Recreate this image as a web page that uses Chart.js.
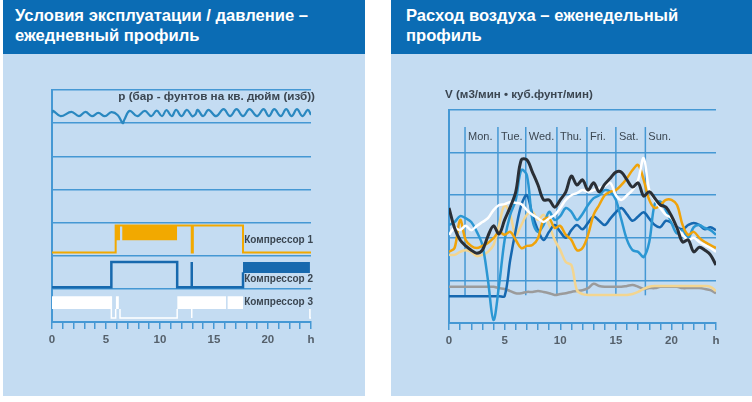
<!DOCTYPE html>
<html><head><meta charset="utf-8">
<script src="https://cdn.jsdelivr.net/npm/chart.js@4.4.1/dist/chart.umd.min.js"></script>
<style>
html,body{margin:0;padding:0;background:#fff;}
body{width:752px;height:402px;position:relative;overflow:hidden;font-family:"Liberation Sans",Arial,sans-serif;}
.panel{position:absolute;top:0;height:396px;background:#c4dcf2;}
#lp{left:3px;width:362px;}
#rp{left:391px;width:361px;}
.hdr{position:absolute;left:0;top:0;right:0;height:54px;background:#0b6cb4;color:#fff;font-weight:bold;font-size:16.6px;line-height:20px;box-sizing:border-box;padding-top:6px;}
#lp .hdr{padding-left:12px;}
#rp .hdr{padding-left:15px;}
.cv{position:absolute;top:56px;height:346px;}
#lc{left:0;width:370px;}
#rc{left:376px;width:376px;}
</style></head><body>
<div class="panel" id="lp"><div class="hdr">Условия эксплуатации / давление –<br>ежедневный профиль</div></div>
<div class="panel" id="rp"><div class="hdr">Расход воздуха – еженедельный<br>профиль</div></div>
<div class="cv" id="lc"><canvas id="c1" width="370" height="346"></canvas></div>
<div class="cv" id="rc"><canvas id="c2" width="376" height="346"></canvas></div>
<script>
// ---------- LEFT CHART DATA (hours 0..24) ----------
const pressureHours = [0,0.1,0.8,1.8,2.5,3.1,3.7,4.3,4.9,5.5,6.1,6.55,6.7,7.2,7.9,8.6,9.2,9.7,10.2,10.6,11.1,11.5,12.0,12.5,13.0,13.3,13.5,14.0,14.5,15.2,15.9,16.5,17.1,17.7,18.3,19.0,19.6,20.1,20.6,21.2,21.7,22.2,22.7,23.2,23.7,24];
const pressureValues = [6.30,6.37,6.21,6.34,6.21,6.34,6.21,6.31,6.21,6.33,6.24,6.00,6.10,6.37,6.21,6.37,6.21,6.38,6.21,6.39,6.21,6.40,6.21,6.40,6.21,6.27,6.40,6.21,6.40,6.21,6.42,6.21,6.42,6.21,6.42,6.21,6.42,6.21,6.42,6.21,6.42,6.21,6.42,6.21,6.40,6.25];

const comp1Hours  = [0,5.9,5.9,12.95,12.95,13.05,13.05,17.7,17.7,24];
const comp1Values = [2.1,2.1,2.91,2.91,2.1,2.1,2.91,2.91,2.1,2.1];
const comp1Blocks = [[5.9,6.3],[6.5,11.6]];
const comp1BlockRange = [2.47,2.91];

const comp2Hours  = [0,5.5,5.5,11.6,11.6,12.95,12.95,12.95,17.7,17.7];
const comp2Values = [1.05,1.05,1.81,1.81,1.05,1.05,1.81,1.05,1.05,1.5];
const comp2Blocks = [[17.7,23.9]];
const comp2BlockRange = [1.48,1.81];

const comp3Hours  = [5.5,5.5,5.9,5.9,6.1,6.3,6.3,11.6,11.6,12.3,12.95,12.95,20,23.9,23.9,24];
const comp3Values = [0.78,0.12,0.12,0.39,null,0.39,0.12,0.12,0.39,null,0.39,0.12,null,0.39,0.12,0.12];
const comp3Blocks = [[0,5.5],[5.9,6.2],[11.6,16.15],[16.25,17.7]];
const comp3BlockRange = [0.39,0.78];

const leftLabels = ['p (бар - фунтов на кв. дюйм (изб))','Компрессор 1','Компрессор 2','Компрессор 3'];

// ---------- RIGHT CHART DATA (hours 0..24, step 0.5) ----------
const hours = [0,0.5,1,1.5,2,2.5,3,3.5,4,4.5,5,5.5,6,6.5,7,7.5,8,8.5,9,9.5,10,10.5,11,11.5,12,12.5,13,13.5,14,14.5,15,15.5,16,16.5,17,17.5,18,18.5,19,19.5,20,20.5,21,21.5,22,22.5,23,23.5,24];
const flowBlack  = [2.70,2.23,1.95,1.81,1.71,1.64,1.71,2.04,2.28,2.09,2.42,2.72,3.08,3.83,3.83,3.54,3.24,2.89,2.89,2.72,2.89,3.08,3.45,3.24,3.36,3.12,3.29,3.08,3.26,3.40,3.54,3.54,3.36,3.19,3.29,2.98,3.08,2.93,2.77,2.72,2.51,2.23,1.90,1.95,1.67,1.78,1.71,1.60,1.36];
const flowWhite  = [2.07,2.23,2.18,2.28,2.18,2.28,2.37,2.46,2.65,2.77,2.79,2.84,2.82,2.79,2.65,2.54,2.46,2.37,2.46,2.54,2.70,2.89,3.00,3.05,3.12,3.08,3.12,3.17,3.22,3.29,3.00,2.89,3.00,3.12,3.36,3.87,3.12,2.89,2.70,2.54,2.46,2.23,2.07,1.95,2.00,1.90,1.83,1.76,1.67];
const flowOrange = [1.67,1.76,2.42,1.95,1.81,1.76,1.81,1.88,1.99,2.14,2.07,2.14,1.95,1.76,1.81,1.83,1.99,2.42,2.46,2.23,2.28,2.07,1.95,1.71,1.76,2.07,2.54,2.77,3.00,3.08,3.12,3.24,3.40,3.59,3.71,3.36,2.89,2.70,2.77,2.89,2.89,2.77,2.30,2.07,2.14,2.00,1.90,1.83,1.76];
const flowBlue   = [2.30,2.37,2.51,2.46,2.37,2.14,1.83,1.01,0.07,0.89,1.95,2.54,2.89,3.59,3.47,2.42,2.14,2.30,2.61,2.42,2.51,2.70,2.61,2.42,2.56,2.77,2.93,3.00,3.12,3.08,2.89,2.42,1.95,1.71,1.67,1.55,1.90,2.80,2.85,2.65,2.35,2.10,2.18,2.00,2.25,2.30,2.23,2.18,2.07];
const flowDark   = [0.63,0.63,0.63,0.63,0.63,0.63,0.63,0.63,0.63,0.63,0.63,1.48,2.18,2.77,3.00,2.54,2.18,1.95,2.14,2.30,2.14,2.00,2.18,2.30,2.20,2.35,2.50,2.40,2.30,2.45,2.60,2.70,2.55,2.40,2.50,2.60,2.45,2.30,2.25,2.40,2.35,2.25,2.20,2.30,2.35,2.30,2.20,2.25,2.18];
const flowCream  = [1.60,1.60,1.67,1.71,1.67,1.57,1.60,1.67,1.83,2.30,2.77,2.54,2.07,2.30,2.54,2.61,2.42,2.54,2.30,1.95,1.71,1.43,1.36,0.77,0.68,0.66,0.66,0.66,0.66,0.66,0.66,0.66,0.66,0.68,0.73,0.80,0.85,0.87,0.87,0.87,0.87,0.87,0.87,0.87,0.87,0.87,0.87,0.85,0.75];
const flowGray   = [0.85,0.85,0.85,0.85,0.85,0.85,0.85,0.85,0.85,0.82,0.80,0.75,0.70,0.70,0.73,0.73,0.75,0.73,0.70,0.66,0.68,0.70,0.73,0.75,0.77,0.82,0.92,0.87,0.85,0.85,0.85,0.85,0.87,0.89,0.85,0.80,0.82,0.82,0.85,0.85,0.85,0.85,0.82,0.82,0.82,0.82,0.80,0.77,0.70];

const dayNames = ['Mon.','Tue.','Wed.','Thu.','Fri.','Sat.','Sun.'];
const dayPositions = [1.44,4.4,6.9,9.7,12.4,15.0,17.65];
const dayLineRange = [0.65,4.6];
const flowAxisLabel = 'V (м3/мин • куб.фунт/мин)';

// ---------- helpers ----------
const GRID = '#4598d4';
const TXT = '#3b4651';
const pts = (xs, ys) => xs.map((x, i) => ({x, y: ys[i]}));

const textPlugin = {
  id: 'texts',
  afterDatasetsDraw(chart, args, opts) {
    const {ctx, scales: {x, y}} = chart;
    ctx.save();
    for (const t of opts.items || []) {
      ctx.font = t.font;
      ctx.fillStyle = t.color || TXT;
      ctx.textAlign = t.align || 'left';
      ctx.textBaseline = 'middle';
      ctx.fillText(t.text, x.getPixelForValue(t.x) + (t.dx || 0), y.getPixelForValue(t.y));
    }
    ctx.restore();
  }
};

function baseOptions(ymax, pad, items) {
  return {
    responsive: false, animation: false,
    layout: {padding: pad},
    plugins: {legend: {display: false}, tooltip: {enabled: false}, texts: {items}},
    elements: {point: {radius: 0}, line: {tension: 0}},
    scales: {
      x: {
        type: 'linear', min: 0, max: 24,
        afterFit(s) { s.height = 30; },
        ticks: {stepSize: 1, autoSkip: false, maxRotation: 0, color: '#55606b', padding: 4,
          font: {family: 'Liberation Sans', size: 11.5, weight: 'bold'},
          callback: v => v === 24 ? 'h' : (v % 5 === 0 ? String(v) : '')},
        grid: {display: true, drawOnChartArea: false, drawTicks: true, tickLength: 7, color: GRID, lineWidth: 1.5},
        border: {display: true, color: GRID, width: 2}
      },
      y: {
        min: 0, max: ymax,
        afterFit(s) { s.width = 0; },
        ticks: {display: false, stepSize: 1},
        grid: {color: GRID, lineWidth: 1.5, drawTicks: false},
        border: {display: true, color: GRID, width: 2}
      }
    }
  };
}

function blockSets(blocks, range, color) {
  return blocks.map(b => ({
    data: [{x: b[0], y: range[1]}, {x: b[1], y: range[1]}],
    fill: {value: range[0]}, backgroundColor: color, borderWidth: 0, pointRadius: 0
  }));
}

// ---------- LEFT CHART ----------
const ORANGE = '#f2a900', DBLUE = '#1769ae';
const leftSets = [
  {data: pts(pressureHours, pressureValues), borderColor: '#2a88c0', borderWidth: 2.2, tension: 0.4, fill: false},
  {data: pts(comp1Hours, comp1Values), borderColor: ORANGE, borderWidth: 2, fill: false},
  ...blockSets(comp1Blocks, comp1BlockRange, ORANGE),
  {data: pts(comp2Hours, comp2Values), borderColor: DBLUE, borderWidth: 2.5, fill: false},
  ...blockSets(comp2Blocks, comp2BlockRange, DBLUE),
  {data: pts(comp3Hours, comp3Values), borderColor: '#ffffff', borderWidth: 1.5, fill: false, spanGaps: false},
  ...blockSets(comp3Blocks, comp3BlockRange, '#ffffff')
];
const lfont = 'bold 10px "Liberation Sans", Arial, sans-serif';
new Chart(document.getElementById('c1'), {
  type: 'line',
  data: {datasets: leftSets},
  options: baseOptions(7, {left: 52, top: 34, right: 59, bottom: 50}, [
    {text: leftLabels[0], x: 24, y: 6.81, dx: 4, align: 'right', font: 'bold 11.7px "Liberation Sans", Arial, sans-serif'},
    {text: leftLabels[1], x: 24, y: 2.47, dx: 2, align: 'right', font: lfont},
    {text: leftLabels[2], x: 24, y: 1.30, dx: 2, align: 'right', font: lfont},
    {text: leftLabels[3], x: 24, y: 0.60, dx: 2, align: 'right', font: lfont}
  ]),
  plugins: [textPlugin]
});

// ---------- RIGHT CHART ----------
const series = [
  {v: flowBlack, c: '#2a2f36', w: 3},
  {v: flowWhite, c: '#ffffff', w: 2.5},
  {v: flowOrange, c: '#f0a30a', w: 2.5},
  {v: flowBlue, c: '#2b97d3', w: 2.5},
  {v: flowDark, c: '#1668b0', w: 2.5},
  {v: flowCream, c: '#f3d590', w: 2.5},
  {v: flowGray, c: '#9b9b9b', w: 2.5}
];
const rightSets = series.map(s => ({data: pts(hours, s.v), borderColor: s.c, borderWidth: s.w, tension: 0.35, fill: false}));
dayPositions.forEach(d => rightSets.push({data: [{x: d, y: dayLineRange[0]}, {x: d, y: dayLineRange[1]}], borderColor: GRID, borderWidth: 1.5, fill: false}));
const dayItems = dayNames.map((n, i) => ({text: n, x: dayPositions[i], y: 4.37, dx: 3, align: 'left', font: '11px "Liberation Sans", Arial, sans-serif'}));
new Chart(document.getElementById('c2'), {
  type: 'line',
  data: {datasets: rightSets},
  options: baseOptions(5, {left: 73, top: 54, right: 36, bottom: 49}, [
    {text: flowAxisLabel, x: 0, y: 5.35, dx: -4, align: 'left', font: 'bold 11.6px "Liberation Sans", Arial, sans-serif'},
    ...dayItems
  ]),
  plugins: [textPlugin]
});
</script>
</body></html>
